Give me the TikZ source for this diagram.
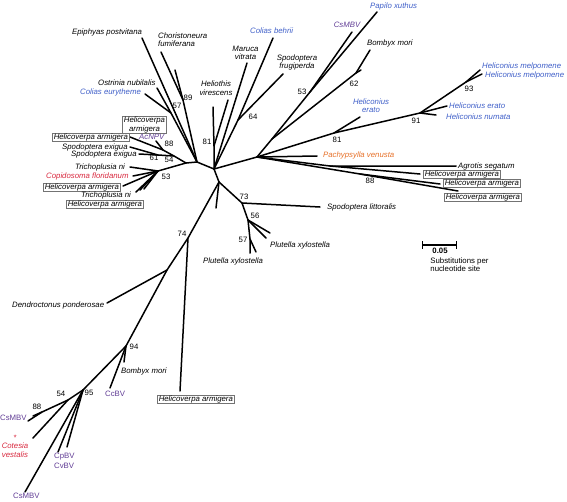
\documentclass[tikz,border=0pt]{standalone}
\usepackage{fontspec}
\setmainfont{Liberation Sans}
\usetikzlibrary{positioning}
\definecolor{taxblue}{RGB}{62,94,200}
\definecolor{taxpurple}{RGB}{98,62,150}
\definecolor{taxred}{RGB}{216,40,62}
\definecolor{taxorange}{RGB}{230,112,40}
\tikzstyle{branch} = [line width=1.5pt, line join=round, line cap=round]
\tikzstyle{taxon} = [font=\fontsize{7.8}{8.5}\selectfont\itshape, inner sep=0pt, anchor=west]
\tikzstyle{boxed} = [taxon, draw=black!55, line width=0.5pt, inner xsep=1.5pt, inner ysep=0.4pt]
\tikzstyle{virus} = [font=\fontsize{7.8}{8.5}\selectfont, inner sep=0pt, anchor=west, text=taxpurple]
\tikzstyle{support} = [font=\fontsize{7.8}{8.5}\selectfont, inner sep=0pt]
\tikzstyle{scalebar} = [line width=1.1pt, |-|]

\begin{document}
\begin{tikzpicture}[x=1pt, y=-1pt]
    \useasboundingbox (0,0) rectangle (567,501);
    % centre of the tree
    \coordinate (kA) at (186,163);
    \coordinate (kB) at (197,162);
    \coordinate (kC) at (214,169);
    \coordinate (kD) at (219,182);
    \draw [branch] (kA) -- (kB) -- (kC) -- (kD);

    % upper left clade
    \coordinate (n89) at (183,100);
    \coordinate (n57) at (171,113);
    \coordinate (epiphyasTip) at (142,38);
    \coordinate (choristoneuraTip) at (161,52);
    \coordinate (stubTipA) at (175,70);
    \coordinate (ostriniaTip) at (157,88);
    \coordinate (coliasEurTip) at (145,94);
    \draw [branch] (kB) -- (epiphyasTip);
    \draw [branch] (kB) -- (n89) -- (choristoneuraTip);
    \draw [branch] (n89) -- (stubTipA);
    \draw [branch] (kB) -- (n57) -- (ostriniaTip);
    \draw [branch] (n57) -- (coliasEurTip);
    \node (epiphyas) [taxon] at (72,32) {Epiphyas postvitana};
    \node (choristoneura) [taxon, align=left] at (158,39.5) {Choristoneura\\fumiferana};
    \node (ostrinia) [taxon] at (98,83) {Ostrinia nubilalis};
    \node (coliasEur) [taxon, text=taxblue] at (80,92) {Colias eurytheme};
    \node (s89) [support] at (188,98) {89};
    \node (s57) [support] at (177,106) {57};

    % left clade 54
    \coordinate (n54) at (174,156);
    \coordinate (n88) at (163,150);
    \coordinate (n61) at (158,155);
    \coordinate (helArmTipA) at (130,137);
    \coordinate (acnpvTip) at (156,141);
    \coordinate (spoExiTipA) at (130,147);
    \coordinate (spoExiTipB) at (139,154);
    \draw [branch] (kA) -- (n54) -- (n88) -- (helArmTipA);
    \draw [branch] (n88) -- (acnpvTip);
    \draw [branch] (n54) -- (n61) -- (spoExiTipA);
    \draw [branch] (n61) -- (spoExiTipB);
    \node (helArmTwo) [boxed, align=center, anchor=center] at (144.5,125) {Helicoverpa\\armigera};
    \node (acnpv) [taxon, text=taxpurple] at (139,137) {AcNPV};
    \node (helArmA) [boxed] at (52,137) {Helicoverpa armigera};
    \node (spoExiA) [taxon] at (62,147) {Spodoptera exigua};
    \node (spoExiB) [taxon] at (71,154) {Spodoptera exigua};
    \node (s88) [support] at (169,144) {88};
    \node (s61) [support] at (154,158) {61};
    \node (s54) [support] at (169,160) {54};

    % left clade 53
    \coordinate (n53) at (158,171);
    \coordinate (trichoTipA) at (130,167);
    \coordinate (copidoTip) at (133,176);
    \coordinate (helArmTipB) at (123,186);
    \coordinate (trichoTipB) at (136,192);
    \coordinate (trichoTipC) at (140,190);
    \coordinate (helArmTipC) at (144,189);
    \draw [branch] (kA) -- (n53);
    \foreach \t in {trichoTipA, copidoTip, helArmTipB, trichoTipB, trichoTipC, helArmTipC}
        \draw [branch] (n53) -- (\t);
    \node (trichoA) [taxon] at (75,167) {Trichoplusia ni};
    \node (copido) [taxon, text=taxred] at (46,176) {Copidosoma floridanum};
    \node (helArmB) [boxed] at (43,187) {Helicoverpa armigera};
    \node (trichoB) [taxon] at (81,195) {Trichoplusia ni};
    \node (helArmC) [boxed] at (66,204) {Helicoverpa armigera};
    \node (s53) [support] at (166,177) {53};

    % upper clade
    \coordinate (n64) at (238,120);
    \coordinate (n81a) at (214,146);
    \coordinate (coliasBehTip) at (273,38);
    \coordinate (sfrugiTip) at (283,74);
    \coordinate (marucaTip) at (247,63);
    \coordinate (heliothisTipA) at (228,100);
    \coordinate (heliothisTipB) at (213,107);
    \draw [branch] (kC) -- (n64) -- (coliasBehTip);
    \draw [branch] (n64) -- (sfrugiTip);
    \draw [branch] (kC) -- (marucaTip);
    \draw [branch] (kC) -- (n81a) -- (heliothisTipA);
    \draw [branch] (n81a) -- (heliothisTipB);
    \node (coliasBeh) [taxon, text=taxblue] at (250,31) {Colias behrii};
    \node (maruca) [taxon, align=center, anchor=center] at (245.5,53) {Maruca\\vitrata};
    \node (sfrugi) [taxon, align=center, anchor=center] at (297,62.5) {Spodoptera\\frugiperda};
    \node (heliothis) [taxon, align=center, anchor=center] at (216,88) {Heliothis\\virescens};
    \node (s64) [support] at (253,117) {64};
    \node (s81a) [support] at (207,142) {81};

    % right clade
    \coordinate (nR) at (257,157);
    \coordinate (nQ) at (272,139);
    \coordinate (n53r) at (310,92);
    \coordinate (n62) at (356,73);
    \coordinate (n81) at (334,133);
    \coordinate (n91) at (420,113);
    \coordinate (n93) at (466,82);
    \coordinate (nAg) at (330,166);
    \coordinate (n88r) at (360,174);
    \coordinate (csmbvTopTip) at (352,32);
    \coordinate (papiloTip) at (377,12);
    \coordinate (bombyxTopTip) at (370,50);
    \coordinate (stubTipB) at (361,70);
    \coordinate (helEratoTipA) at (360,117);
    \coordinate (helEratoTipB) at (447,106);
    \coordinate (helNumataTip) at (436,115);
    \coordinate (melpoTipA) at (480,70);
    \coordinate (melpoTipB) at (482,74);
    \coordinate (pachyTip) at (317,156);
    \coordinate (agrotisTip) at (456,166);
    \coordinate (helArmTipD) at (420,174);
    \coordinate (helArmTipE) at (440,184);
    \coordinate (helArmTipF) at (458,191);
    \draw [branch] (kC) -- (nR);
    \draw [branch] (nR) -- (nQ) -- (n53r) -- (csmbvTopTip);
    \draw [branch] (n53r) -- (papiloTip);
    \draw [branch] (nQ) -- (n62) -- (bombyxTopTip);
    \draw [branch] (n62) -- (stubTipB);
    \draw [branch] (nR) -- (n81) -- (helEratoTipA);
    \draw [branch] (n81) -- (n91) -- (helEratoTipB);
    \draw [branch] (n91) -- (helNumataTip);
    \draw [branch] (n91) -- (n93) -- (melpoTipA);
    \draw [branch] (n93) -- (melpoTipB);
    \draw [branch] (nR) -- (pachyTip);
    \draw [branch] (nR) -- (nAg) -- (agrotisTip);
    \draw [branch] (nAg) -- (helArmTipD);
    \draw [branch] (nR) -- (n88r) -- (helArmTipF);
    \draw [branch] (n88r) -- (helArmTipE);
    \node (csmbvTop) [taxon, text=taxpurple, anchor=center] at (347,25) {CsMBV};
    \node (papilo) [taxon, text=taxblue] at (370,6) {Papilo xuthus};
    \node (bombyxTop) [taxon] at (367,43) {Bombyx mori};
    \node (melpoA) [taxon, text=taxblue] at (482,66) {Heliconius melpomene};
    \node (melpoB) [taxon, text=taxblue] at (485,75) {Heliconius melpomene};
    \node (helEratoB) [taxon, text=taxblue] at (449,106) {Heliconius erato};
    \node (helNumata) [taxon, text=taxblue] at (446,117) {Heliconius numata};
    \node (helEratoA) [taxon, text=taxblue, align=center, anchor=center, font=\fontsize{7.8}{7.6}\selectfont\itshape] at (371,105.5) {Heliconius\\erato};
    \node (pachy) [taxon, text=taxorange] at (323,155) {Pachypsylla venusta};
    \node (agrotis) [taxon] at (458,166) {Agrotis segatum};
    \node (helArmD) [boxed] at (423,174) {Helicoverpa armigera};
    \node (helArmE) [boxed] at (443,183) {Helicoverpa armigera};
    \node (helArmF) [boxed] at (444,197) {Helicoverpa armigera};
    \node (s53r) [support] at (302,92) {53};
    \node (s62) [support] at (354,84) {62};
    \node (s93) [support] at (469,89) {93};
    \node (s91) [support] at (416,121) {91};
    \node (s81) [support] at (337,140) {81};
    \node (s88r) [support] at (370,181) {88};

    % lower clade
    \coordinate (n73) at (242,203);
    \coordinate (n56) at (248,220);
    \coordinate (n57b) at (250,239);
    \coordinate (stubTipC) at (216,208);
    \coordinate (littoralisTip) at (320,207);
    \coordinate (plutellaTipA) at (270,233);
    \coordinate (plutellaTipB) at (266,238);
    \coordinate (plutellaTipC) at (250,253);
    \coordinate (plutellaTipD) at (256,252);
    \draw [branch] (kD) -- (stubTipC);
    \draw [branch] (kD) -- (n73) -- (littoralisTip);
    \draw [branch] (n73) -- (n56) -- (plutellaTipA);
    \draw [branch] (n56) -- (plutellaTipB);
    \draw [branch] (n56) -- (n57b) -- (plutellaTipC);
    \draw [branch] (n57b) -- (plutellaTipD);
    \node (littoralis) [taxon] at (327,207) {Spodoptera littoralis};
    \node (plutellaA) [taxon] at (270,245) {Plutella xylostella};
    \node (plutellaB) [taxon] at (203,261) {Plutella xylostella};
    \node (s73) [support] at (244,197) {73};
    \node (s56) [support] at (255,216) {56};
    \node (s57b) [support] at (243,240) {57};

    % long lower left branch
    \coordinate (n74) at (188,238);
    \coordinate (nDe) at (167,270);
    \coordinate (n94) at (126,346);
    \coordinate (n95) at (83,390);
    \coordinate (n54b) at (68,400);
    \coordinate (n88b) at (42,412);
    \coordinate (helArmTipG) at (180,391);
    \coordinate (dendroTip) at (107,303);
    \coordinate (bombyxLowTip) at (124,362);
    \coordinate (ccbvTip) at (110,388);
    \coordinate (cpbvTipA) at (58,452);
    \coordinate (cpbvTipB) at (67,447);
    \coordinate (csmbvLowTip) at (25,492);
    \coordinate (csmbvMidTip) at (28,421);
    \coordinate (stubTipD) at (33,416);
    \coordinate (cotesiaTip) at (33,438);
    \draw [branch] (kD) -- (n74) -- (helArmTipG);
    \draw [branch] (n74) -- (nDe) -- (dendroTip);
    \draw [branch] (nDe) -- (n94) -- (bombyxLowTip);
    \draw [branch] (n94) -- (ccbvTip);
    \draw [branch] (n94) -- (n95) -- (cpbvTipA);
    \draw [branch] (n95) -- (cpbvTipB);
    \draw [branch] (n95) -- (csmbvLowTip);
    \draw [branch] (n95) -- (n54b) -- (n88b) -- (csmbvMidTip);
    \draw [branch] (n88b) -- (stubTipD);
    \draw [branch] (n54b) -- (cotesiaTip);
    \node (dendro) [taxon] at (12,305) {Dendroctonus ponderosae};
    \node (helArmG) [boxed] at (157,399) {Helicoverpa armigera};
    \node (bombyxLow) [taxon] at (121,371) {Bombyx mori};
    \node (ccbv) [virus] at (105,394) {CcBV};
    \node (csmbvMid) [virus] at (0,418) {CsMBV};
    \node (cotesia) [taxon, text=taxred, align=center, anchor=center] at (15,446) {*\\Cotesia\\vestalis};
    \node (cpbv) [virus] at (54,457) {CpBV};
    \node (cvbv) [virus] at (54,466) {CvBV};
    \node (csmbvLow) [virus] at (13,496) {CsMBV};
    \node (s74) [support] at (182,234) {74};
    \node (s94) [support] at (134,347) {94};
    \node (s95) [support] at (89,393) {95};
    \node (s54b) [support] at (61,394) {54};
    \node (s88b) [support] at (37,407) {88};

    % scale
    \coordinate (scaleL) at (422,245);
    \coordinate (scaleR) at (457,245);
    \draw [scalebar] (scaleL) -- (scaleR);
    \node (scaleVal) [support, font=\fontsize{7.8}{8.5}\selectfont\bfseries] at (440,251) {0.05};
    \node (scaleText) [support, align=left, below=3.5pt of scaleVal.south west, xshift=-2pt, anchor=north west] {Substitutions per\\nucleotide site};
\end{tikzpicture}
\end{document}
